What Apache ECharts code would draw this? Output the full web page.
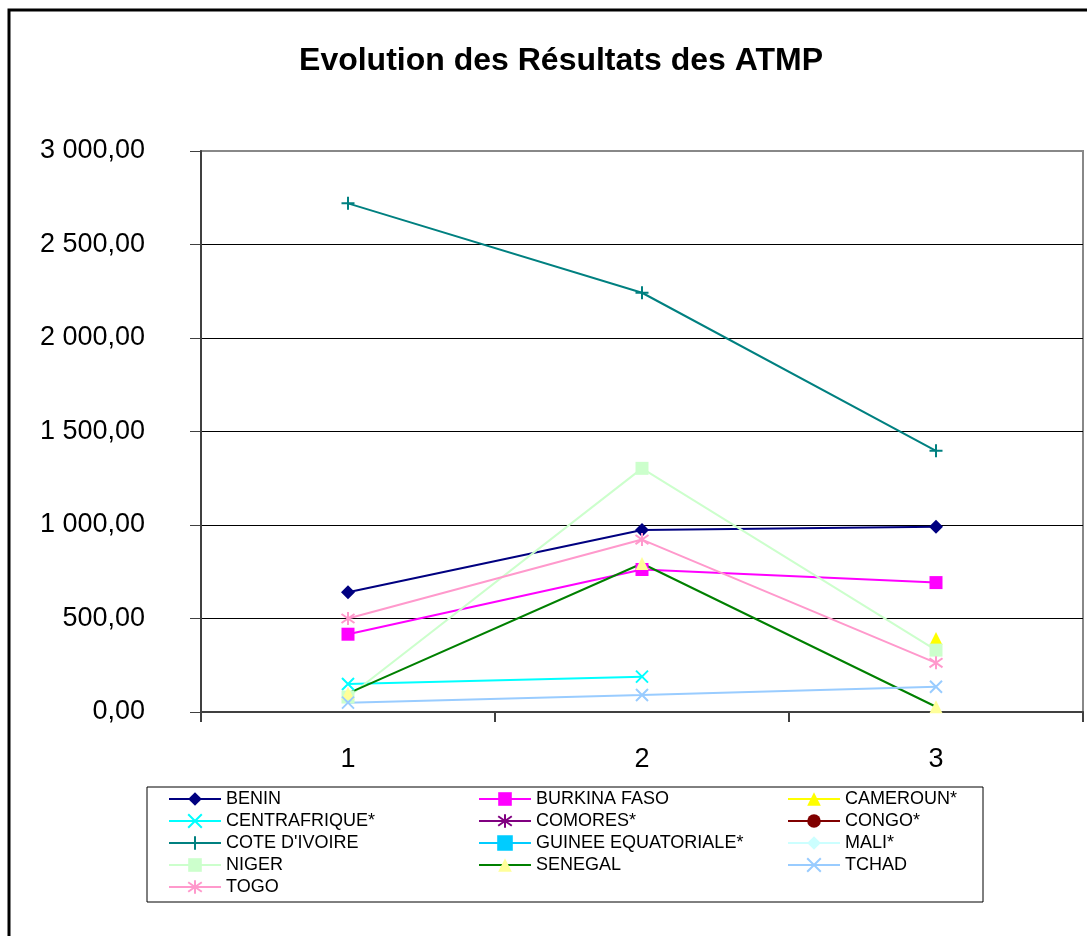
<!DOCTYPE html>
<html>
<head>
<meta charset="utf-8">
<script src="https://cdn.jsdelivr.net/npm/echarts@6/dist/echarts.min.js"></script>
<style>
  html, body { margin: 0; padding: 0; background: #fff; }
  #chart { width: 1087px; height: 936px; }
</style>
</head>
<body>
<div id="chart"></div>
<script>
// Evolution des Résultats des ATMP
var categories = ['1', '2', '3'];
var yTicks = [0, 500, 1000, 1500, 2000, 2500, 3000];

var benin = [640, 973, 990];
var burkina = [416, 762, 692];
var cameroun = [null, null, 393];
var centrafrique = [150, 189, null];
var comores = [null, null, null];
var congo = [null, null, null];
var coteIvoire = [2720, 2242, 1397];
var guinee = [null, null, null];
var mali = [null, null, null];
var niger = [80, 1303, 331];
var senegal = [100, 794, 28];
var tchad = [50, 91, 135];
var togo = [500, 922, 263];

var SYM_X = 'path://M0,0L10,10M10,0L0,10';
var SYM_PLUS = 'path://M5,0L5,10M0,5L10,5';
var SYM_STAR = 'path://M5,0L5,10M0,1.5L10,8.5M10,1.5L0,8.5';
var SYM_DASH = 'path://M0,0L10,0L10,4L0,4Z';

function frNumber(v) {
	var s = v.toFixed(2).split('.');
	var ent = s[0].replace(/\B(?=(\d{3})+(?!\d))/g, ' ');
	return ent + ',' + s[1];
}

function serie(name, data, lineColor, markColor, symbol, size) {
	return {
		name: name,
		type: 'line',
		data: data,
		symbol: symbol,
		symbolSize: size,
		showAllSymbol: true,
		connectNulls: false,
		animation: false,
		lineStyle: { color: lineColor, width: 2 },
		itemStyle: { color: markColor, borderColor: markColor, borderWidth: symbol.indexOf('path://') === 0 ? 2 : 0 }
	};
}

var seriesList = [
	serie('BENIN', benin, '#000080', '#000080', 'diamond', 14),
	serie('BURKINA FASO', burkina, '#FF00FF', '#FF00FF', 'rect', 13),
	serie('CAMEROUN*', cameroun, '#FFFF00', '#FFFF00', 'triangle', 13),
	serie('CENTRAFRIQUE*', centrafrique, '#00FFFF', '#00FFFF', SYM_X, 12),
	serie('COMORES*', comores, '#800080', '#800080', SYM_STAR, 12),
	serie('CONGO*', congo, '#800000', '#800000', 'circle', 12),
	serie("COTE D'IVOIRE", coteIvoire, '#008080', '#008080', SYM_PLUS, 13),
	serie('GUINEE EQUATORIALE*', guinee, '#00CCFF', '#00CCFF', SYM_DASH, [12, 5]),
	serie('MALI*', mali, '#CCFFFF', '#CCFFFF', 'diamond', 13),
	serie('NIGER', niger, '#CCFFCC', '#CCFFCC', 'rect', 13),
	serie('SENEGAL', senegal, '#008000', '#FFFF99', 'triangle', 13),
	serie('TCHAD', tchad, '#99CCFF', '#99CCFF', SYM_X, 12),
	serie('TOGO', togo, '#FF99CC', '#FF99CC', SYM_STAR, 13)
];

var legendCols = [
	['BENIN', 'CENTRAFRIQUE*', "COTE D'IVOIRE", 'NIGER', 'TOGO'],
	['BURKINA FASO', 'COMORES*', 'GUINEE EQUATORIALE*', 'SENEGAL'],
	['CAMEROUN*', 'CONGO*', 'MALI*', 'TCHAD']
];
var legendLeft = [168, 478, 787];

var legends = legendCols.map(function (col, i) {
	return {
		data: col,
		orient: 'vertical',
		left: legendLeft[i],
		top: 790,
		padding: 0,
		itemWidth: 52,
		itemHeight: 17,
		itemGap: 4,
		selectedMode: false,
		textStyle: { fontFamily: 'Liberation Sans, Arial', fontSize: 18, color: '#000', lineHeight: 17 }
	};
});

var chart = echarts.init(document.getElementById('chart'), null, { renderer: 'canvas' });

chart.setOption({
	backgroundColor: '#fff',
	animation: false,
	title: {
		text: 'Evolution des Résultats des ATMP',
		left: 556,
		top: 40,
		textAlign: 'center',
		textStyle: { fontFamily: 'Liberation Sans, Arial', fontSize: 32, fontWeight: 'bold', color: '#000' }
	},
	legend: legends,
	grid: {
		left: 201, right: 4, top: 151, bottom: 224,
		show: true, borderColor: '#888', borderWidth: 2, backgroundColor: 'transparent'
	},
	xAxis: {
		type: 'category',
		data: categories,
		boundaryGap: true,
		axisLine: { lineStyle: { color: '#404040', width: 2 } },
		axisTick: { show: true, length: 10, alignWithLabel: false, lineStyle: { color: '#404040', width: 2 } },
		axisLabel: { margin: 34, fontFamily: 'Liberation Sans, Arial', fontSize: 27, color: '#000' },
		splitLine: { show: false }
	},
	yAxis: {
		type: 'value',
		min: yTicks[0],
		max: yTicks[yTicks.length - 1],
		interval: 500,
		axisLine: { show: true, lineStyle: { color: '#404040', width: 2 } },
		axisTick: { show: true, length: 11, lineStyle: { color: '#404040', width: 1 } },
		axisLabel: {
			margin: 56, fontFamily: 'Liberation Sans, Arial', fontSize: 27, color: '#000',
			formatter: function (v) { return frNumber(v); }
		},
		splitLine: { show: true, lineStyle: { color: ['#000', '#000', '#000', '#000', '#000', '#000', '#888'], width: 1 } }
	},
	graphic: [
		{ type: 'rect', shape: { x: 9, y: 10, width: 1100, height: 950 }, style: { fill: 'none', stroke: '#000', lineWidth: 3 }, z: 100 },
		{ type: 'rect', shape: { x: 147, y: 787, width: 836, height: 115 }, style: { fill: 'none', stroke: '#000', lineWidth: 1 }, z: 100 }
	],
	series: seriesList
});
</script>
</body>
</html>
